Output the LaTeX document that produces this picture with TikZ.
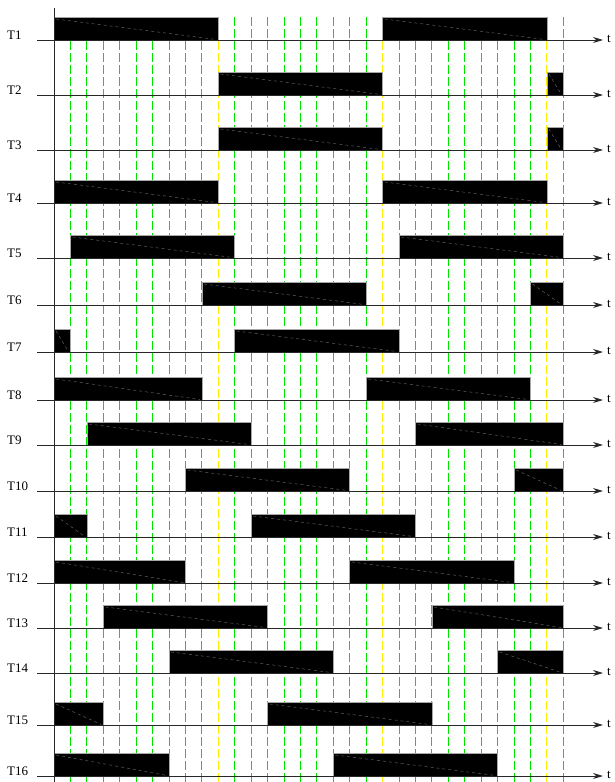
\documentclass[tikz,border=0pt]{standalone}
\usepackage{fontspec}
\setmainfont{Liberation Serif}
\usetikzlibrary{arrows.meta}
\definecolor{gridgreen}{RGB}{0,230,0}
\definecolor{gridyellow}{RGB}{255,240,0}
\definecolor{diag}{RGB}{95,95,95}
\definecolor{axisgray}{RGB}{40,40,40}
\tikzset{
  gridline/.style={gridgreen, line width=0.9pt, dash pattern=on 9pt off 3pt},
  gridmark/.style={gridyellow, line width=0.9pt, dash pattern=on 9pt off 3pt},
  barbox/.style={fill=black, draw=gray!70, line width=0.5pt},
  bardiag/.style={diag, line width=0.5pt, dash pattern=on 3pt off 3pt},
  axisline/.style={axisgray, line width=0.9pt, -{Stealth[length=10pt,width=6pt]}},
  rowlab/.style={anchor=west, inner sep=0pt, font=\fontsize{13}{15}\selectfont},
  tlab/.style={anchor=west, inner sep=0pt, font=\fontsize{13}{15}\selectfont}
}
\newcommand{\uu}{16.43}
\newcommand{\myrow}[3]{%
  \foreach \s/\e in {#3} {
    \fill[barbox] (54+\s*\uu,-#2) rectangle (54+\e*\uu,-#2+22.5);
    \draw[bardiag] (54+\s*\uu+2,-#2+21) -- (54+\e*\uu-2,-#2+0.5);
  }
  \draw[axisline] (37,-#2) -- (603,-#2);
  \node[rowlab] (T#1) at (7,-#2+5) {T#1};
  \node[tlab] (t#1) at (607,-#2+1) {t};
}
\begin{document}
\begin{tikzpicture}[x=1pt,y=1pt]
\useasboundingbox (0,0) rectangle (614,-782);
% grid
\foreach \i in {1,...,31} {
  \pgfmathtruncatemacro{\m}{mod(\i,10)}
  \ifnum\m=0
    \draw[gridmark] (54+\i*\uu,-17) -- (54+\i*\uu,-782);
  \else
    \draw[gridline] (54+\i*\uu,-17) -- (54+\i*\uu,-782);
  \fi
}
% rows
\myrow{1}{40}{0/10,20/30}
\myrow{2}{95}{10/20,30/31}
\myrow{3}{150}{10/20,30/31}
\myrow{4}{203}{0/10,20/30}
\myrow{5}{258}{1/11,21/31}
\myrow{6}{305}{9/19,29/31}
\myrow{7}{352}{0/1,11/21}
\myrow{8}{400}{0/9,19/29}
\myrow{9}{445}{2/12,22/31}
\myrow{10}{491}{8/18,28/31}
\myrow{11}{537}{0/2,12/22}
\myrow{12}{583}{0/8,18/28}
\myrow{13}{628}{3/13,23/31}
\myrow{14}{673}{7/17,27/31}
\myrow{15}{725}{0/3,13/23}
\myrow{16}{776}{0/7,17/27}
% vertical axis
\draw[axisgray, line width=0.9pt] (54,-8) -- (54,-782);
\end{tikzpicture}
\end{document}
